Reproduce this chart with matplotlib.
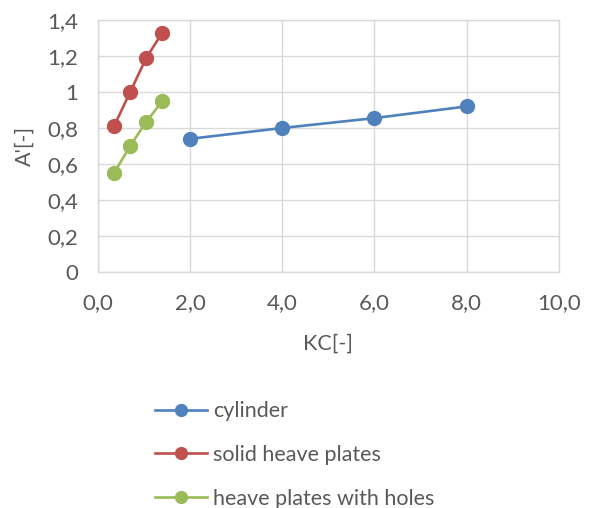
import matplotlib
matplotlib.use("Agg")
import matplotlib.pyplot as plt

plt.rcParams['font.family'] = ['Lato', 'DejaVu Sans']

cyl_x = [2.0, 4.0, 6.0, 8.0]
cyl_y = [0.74, 0.80, 0.855, 0.92]
solid_x = [0.35, 0.7, 1.05, 1.4]
solid_y = [0.81, 1.00, 1.19, 1.33]
holes_x = [0.35, 0.7, 1.05, 1.4]
holes_y = [0.55, 0.70, 0.835, 0.95]

xticks = [0, 2, 4, 6, 8, 10]
xticklabels = ["0,0", "2,0", "4,0", "6,0", "8,0", "10,0"]
yticks = [0, 0.2, 0.4, 0.6, 0.8, 1.0, 1.2, 1.4]
yticklabels = ["0", "0,2", "0,4", "0,6", "0,8", "1", "1,2", "1,4"]

fig = plt.figure(figsize=(5.97, 5.08), dpi=100)
ax = fig.add_axes([0.164, 0.4646, 0.772, 0.496])

tc = '#595959'
ms = 10
lw = 1.9
fs_tick = 16
fs = 15.5
ax.plot(cyl_x, cyl_y, '-o', color='#4f81bd', lw=lw, ms=ms, label='cylinder', zorder=3)
ax.plot(solid_x, solid_y, '-o', color='#c0504d', lw=lw, ms=ms, label='solid heave plates', zorder=3)
ax.plot(holes_x, holes_y, '-o', color='#9bbb59', lw=lw, ms=ms, label='heave plates with holes', zorder=3)

ax.set_xlim(0, 10)
ax.set_ylim(0, 1.4)
ax.set_xticks(xticks)
ax.set_xticklabels(xticklabels)
ax.set_yticks(yticks)
ax.set_yticklabels(yticklabels)
ax.grid(True, color='#d9d9d9', lw=1.0, zorder=0)
ax.set_axisbelow(True)
for s in ax.spines.values():
    s.set_color('#d9d9d9')
    s.set_linewidth(1.0)
ax.tick_params(length=0, labelsize=fs_tick, colors=tc)
ax.tick_params(axis='x', pad=15)
ax.tick_params(axis='y', pad=14)
ax.set_xlabel("KC[-]", fontsize=fs, color=tc, labelpad=15)
ax.set_ylabel("A'[-]", fontsize=fs, color=tc, labelpad=9)

fig.legend(loc='upper left', bbox_to_anchor=(0.245, 0.227), frameon=False,
           fontsize=fs, labelcolor=tc, handlelength=2.4, labelspacing=1.1,
           handletextpad=0.3, borderaxespad=0, markerscale=0.85)

fig.savefig('out.png', dpi=100)
